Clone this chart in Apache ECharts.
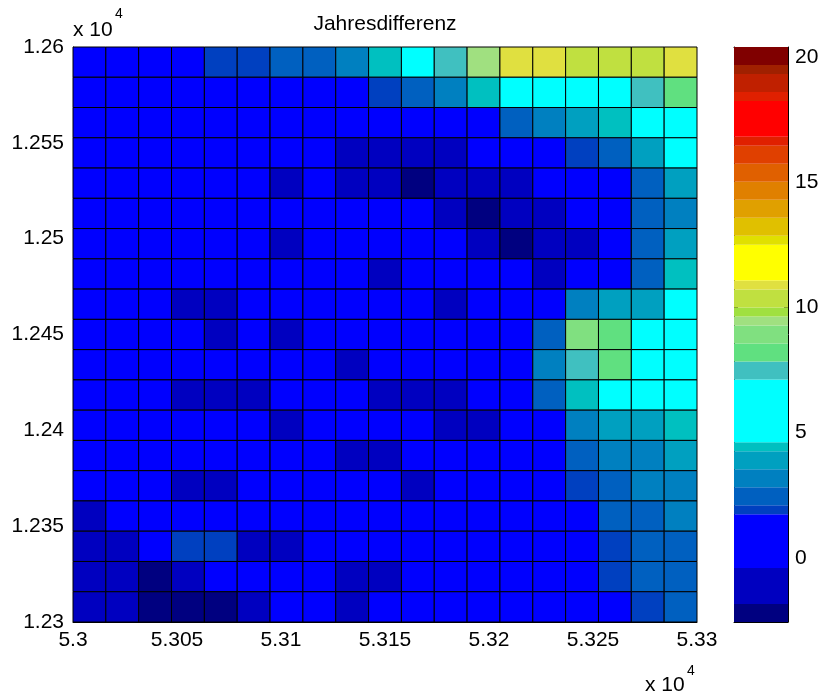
<!DOCTYPE html>
<html>
<head>
<meta charset="utf-8">
<script src="https://cdn.jsdelivr.net/npm/echarts@6/dist/echarts.min.js"></script>
<style>
  html, body { margin: 0; padding: 0; background: #ffffff; }
  #chart { width: 823px; height: 700px; }
</style>
</head>
<body>
<div id="chart"></div>
<script>
// Grid extent (easting / northing) and tick spacing
const xRange = [53000, 53300];
const yRange = [12300, 12600];
const xTickStep = 50;
const yTickStep = 50;

// Colour scale limits and labelled colourbar ticks
const colorLimits = [-2.56, 20.40];
const colorTicks = [0, 5, 10, 15, 20];

// 64-entry colour map, bottom to top, as [colour, number of entries]
const colormapRuns = [
  ['#000080', 2], ['#0000c0', 4], ['#0000ff', 6], ['#0040c0', 1],
  ['#0060c0', 2], ['#0080c0', 2], ['#00a0c0', 2], ['#00c0c0', 1],
  ['#00ffff', 7], ['#40c0c0', 2], ['#60e080', 2], ['#80e080', 2],
  ['#a0e080', 1], ['#a0e040', 1], ['#c0e040', 2], ['#e0e040', 1],
  ['#ffff00', 4], ['#e0e000', 1], ['#e0c000', 2], ['#e0a000', 2],
  ['#e08000', 2], ['#e06000', 2], ['#e04000', 2], ['#e02000', 1],
  ['#ff0000', 4], ['#e02000', 1], ['#c02000', 2], ['#a02000', 1],
  ['#800000', 2]
];

// Yearly difference per cell, rows from north (top) to south (bottom)
const diffRows = [
  [0.9, 1.0, 1.2, 1.4, 1.9, 2.0, 2.4, 2.6, 3.2, 4.4, 5.6, 7.4, 9.45, 10.9, 10.85, 10.5, 10.4, 10.3, 10.9],
  [0.5, 0.6, 0.8, 0.7, 0.9, 1.0, 1.1, 1.2, 1.5, 1.9, 2.5, 3.1, 4.4, 5.9, 6.3, 6.1, 5.7, 7.5, 8.2],
  [0.4, 0.5, 0.6, 0.5, 0.7, 0.6, 0.8, 0.9, 0.8, 0.7, 1.0, 1.2, 1.4, 2.5, 3.2, 3.9, 4.4, 5.3, 5.8],
  [0.3, 0.4, 0.5, 0.4, 0.3, 0.2, 0.1, -0.1, -0.6, -0.8, -0.9, -0.7, 0.2, 0.5, 0.9, 1.9, 2.6, 3.9, 5.2],
  [0.3, 0.4, 0.3, 0.2, 0.1, 0.0, -0.6, -0.2, -0.9, -1.2, -2.0, -1.3, -1.1, -0.8, -0.1, 0.4, 1.0, 2.5, 3.8],
  [0.4, 0.3, 0.2, 0.2, 0.1, 0.0, -0.1, 0.0, -0.2, -0.3, -0.3, -1.0, -2.1, -1.2, -0.9, -0.2, 0.6, 2.5, 3.1],
  [0.3, 0.3, 0.2, 0.1, 0.1, 0.0, -0.6, -0.1, -0.2, -0.3, -0.2, -0.3, -1.1, -2.2, -1.3, -1.0, 0.2, 2.4, 3.8],
  [0.4, 0.3, 0.3, 0.2, 0.1, 0.1, 0.0, -0.1, -0.2, -0.7, -0.2, -0.1, -0.2, -0.3, -0.9, 0.0, 0.5, 2.4, 4.4],
  [0.5, 0.4, 0.2, -0.6, -0.7, 0.0, 0.1, 0.0, -0.1, -0.1, -0.2, -0.8, -0.1, 0.3, 0.9, 3.0, 3.8, 4.0, 5.4],
  [0.5, 0.4, 0.2, 0.0, -0.6, 0.0, -0.7, -0.1, -0.2, 0.0, 0.1, 0.0, 0.2, 0.6, 2.3, 8.9, 8.2, 6.4, 5.9],
  [0.6, 0.5, 0.3, 0.2, 0.0, 0.1, 0.0, -0.2, -0.7, -0.3, -0.2, 0.0, 0.3, 0.8, 3.1, 7.5, 8.1, 6.6, 6.0],
  [0.5, 0.4, 0.2, -0.6, -0.8, -0.7, -0.1, -0.2, -0.3, -0.8, -0.9, -0.7, -0.1, 0.6, 2.5, 4.4, 5.7, 6.0, 5.8],
  [0.6, 0.5, 0.3, 0.1, 0.0, -0.1, -0.7, -0.2, -0.2, -0.3, -0.3, -0.7, -0.8, -0.2, 0.5, 3.2, 3.9, 4.0, 4.4],
  [0.7, 0.5, 0.4, 0.2, 0.1, 0.0, -0.1, -0.2, -0.6, -0.7, -0.3, -0.2, -0.1, 0.2, 0.8, 2.6, 3.0, 3.2, 3.7],
  [0.6, 0.4, 0.2, -0.6, -0.7, -0.1, -0.1, -0.2, -0.2, -0.3, -0.6, -0.3, -0.1, 0.2, 0.8, 1.9, 2.6, 3.0, 2.9],
  [-0.6, -0.2, 0.0, 0.1, 0.1, 0.0, -0.1, -0.1, -0.2, -0.2, -0.2, -0.1, 0.1, 0.3, 0.7, 1.2, 2.3, 2.5, 3.0],
  [-0.9, -0.8, -0.1, 1.9, 1.9, -0.6, -0.7, -0.2, -0.1, -0.1, 0.0, 0.1, 0.2, 0.4, 0.7, 1.1, 2.0, 2.3, 2.5],
  [-1.0, -0.9, -2.0, -0.8, -0.2, -0.1, -0.2, -0.3, -0.6, -0.7, -0.2, 0.0, 0.2, 0.3, 0.6, 1.0, 1.9, 2.4, 2.4],
  [-1.1, -1.0, -2.2, -2.3, -2.4, -0.9, -0.2, -0.2, -0.6, -0.2, 0.0, 0.1, 0.3, 0.4, 0.6, 0.9, 1.3, 2.0, 2.3]
];

const FONT = '"Liberation Sans", Arial, Helvetica, sans-serif';

const nRows = diffRows.length;
const nCols = diffRows[0].length;
const dx = (xRange[1] - xRange[0]) / nCols;
const dy = (yRange[1] - yRange[0]) / nRows;

// cells as [west edge, south edge, value]
const cells = [];
diffRows.forEach((row, r) => {
  row.forEach((v, c) => {
    cells.push([xRange[0] + c * dx, yRange[1] - (r + 1) * dy, v]);
  });
});

// colour map entries -> value bands
const nEntries = colormapRuns.reduce((s, run) => s + run[1], 0);
const entryStep = (colorLimits[1] - colorLimits[0]) / nEntries;
const pieces = [];
const bands = [];
let k = 0;
colormapRuns.forEach(([color, count]) => {
  const lo = colorLimits[0] + k * entryStep;
  const hi = colorLimits[0] + (k + count) * entryStep;
  pieces.push({ gte: lo, lt: hi, color: color });
  bands.push({ value: [lo, hi], itemStyle: { color: color } });
  k += count;
});
pieces[0].gte = -Infinity;
pieces[pieces.length - 1].lt = Infinity;

const tickFmt = v => String(+(v / 1e4).toFixed(4));
const labelStyle = { color: '#000', fontFamily: FONT, fontSize: 21 };

const chart = echarts.init(document.getElementById('chart'), null, { renderer: 'canvas' });

chart.setOption({
  animation: false,
  backgroundColor: '#ffffff',
  grid: [
    { left: 73, top: 47, width: 624, height: 575, containLabel: false },
    { left: 734, top: 47, width: 54, height: 575, containLabel: false }
  ],
  xAxis: [
    {
      gridIndex: 0, type: 'value', min: xRange[0], max: xRange[1], interval: xTickStep,
      axisLine: { show: true, onZero: false, lineStyle: { color: '#000', width: 1 } },
      axisTick: { show: false },
      splitLine: { show: false },
      axisLabel: Object.assign({ formatter: tickFmt, margin: 8 }, labelStyle)
    },
    {
      gridIndex: 1, type: 'value', min: 0, max: 1, position: 'bottom',
      axisLine: { show: true, onZero: false, lineStyle: { color: '#000', width: 1 } },
      axisTick: { show: false }, axisLabel: { show: false }, splitLine: { show: false }
    },
    {
      gridIndex: 1, type: 'value', min: 0, max: 1, position: 'top',
      axisLine: { show: true, onZero: false, lineStyle: { color: '#000', width: 1 } },
      axisTick: { show: false }, axisLabel: { show: false }, splitLine: { show: false }
    }
  ],
  yAxis: [
    {
      gridIndex: 0, type: 'value', min: yRange[0], max: yRange[1], interval: yTickStep,
      axisLine: { show: true, onZero: false, lineStyle: { color: '#000', width: 1 } },
      axisTick: { show: false },
      splitLine: { show: false },
      axisLabel: Object.assign({ formatter: tickFmt, margin: 9 }, labelStyle)
    },
    {
      gridIndex: 1, type: 'value', min: colorLimits[0], max: colorLimits[1], position: 'right',
      axisLine: { show: true, onZero: false, lineStyle: { color: '#000', width: 1 } },
      axisTick: { show: true, inside: true, length: 4, customValues: colorTicks, lineStyle: { color: '#000' } },
      splitLine: { show: false },
      axisLabel: Object.assign({ customValues: colorTicks, margin: 7, formatter: v => String(v) }, labelStyle)
    },
    {
      gridIndex: 1, type: 'value', min: colorLimits[0], max: colorLimits[1], position: 'left',
      axisLine: { show: true, onZero: false, lineStyle: { color: '#000', width: 1 } },
      axisTick: { show: true, inside: true, length: 4, customValues: colorTicks, lineStyle: { color: '#000' } },
      splitLine: { show: false },
      axisLabel: { show: false }
    }
  ],
  visualMap: {
    type: 'piecewise',
    show: false,
    seriesIndex: 0,
    dimension: 2,
    pieces: pieces
  },
  series: [
    {
      type: 'custom',
      xAxisIndex: 0,
      yAxisIndex: 0,
      encode: { x: 0, y: 1 },
      data: cells,
      z: 2,
      renderItem: function (params, api) {
        const x0 = api.value(0);
        const y0 = api.value(1);
        const pTL = api.coord([x0, y0 + dy]);
        const pBR = api.coord([x0 + dx, y0]);
        return {
          type: 'rect',
          shape: { x: pTL[0], y: pTL[1], width: pBR[0] - pTL[0], height: pBR[1] - pTL[1] },
          style: { fill: api.visual('color'), stroke: '#000', lineWidth: 1 }
        };
      }
    },
    {
      type: 'custom',
      xAxisIndex: 1,
      yAxisIndex: 1,
      encode: { y: [0, 1] },
      data: bands,
      z: 1,
      renderItem: function (params, api) {
        const lo = api.value(0);
        const hi = api.value(1);
        const pTop = api.coord([0, hi]);
        const pBot = api.coord([1, lo]);
        return {
          type: 'rect',
          shape: { x: pTop[0], y: pTop[1], width: pBot[0] - pTop[0], height: pBot[1] - pTop[1] },
          style: { fill: api.visual('color'), stroke: null }
        };
      }
    }
  ],
  graphic: [
    {
      type: 'text', x: 385, y: 24, z: 10,
      style: { text: 'Jahresdifferenz', fill: '#000', font: '21px ' + FONT, textAlign: 'center', textVerticalAlign: 'middle' }
    },
    {
      type: 'text', x: 73, y: 30, z: 10,
      style: { text: 'x 10', fill: '#000', font: '21px ' + FONT, textAlign: 'left', textVerticalAlign: 'middle' }
    },
    {
      type: 'text', x: 115, y: 14, z: 10,
      style: { text: '4', fill: '#000', font: '14px ' + FONT, textAlign: 'left', textVerticalAlign: 'middle' }
    },
    {
      type: 'text', x: 645, y: 685, z: 10,
      style: { text: 'x 10', fill: '#000', font: '21px ' + FONT, textAlign: 'left', textVerticalAlign: 'middle' }
    },
    {
      type: 'text', x: 687, y: 671, z: 10,
      style: { text: '4', fill: '#000', font: '14px ' + FONT, textAlign: 'left', textVerticalAlign: 'middle' }
    }
  ]
});
</script>
</body>
</html>
